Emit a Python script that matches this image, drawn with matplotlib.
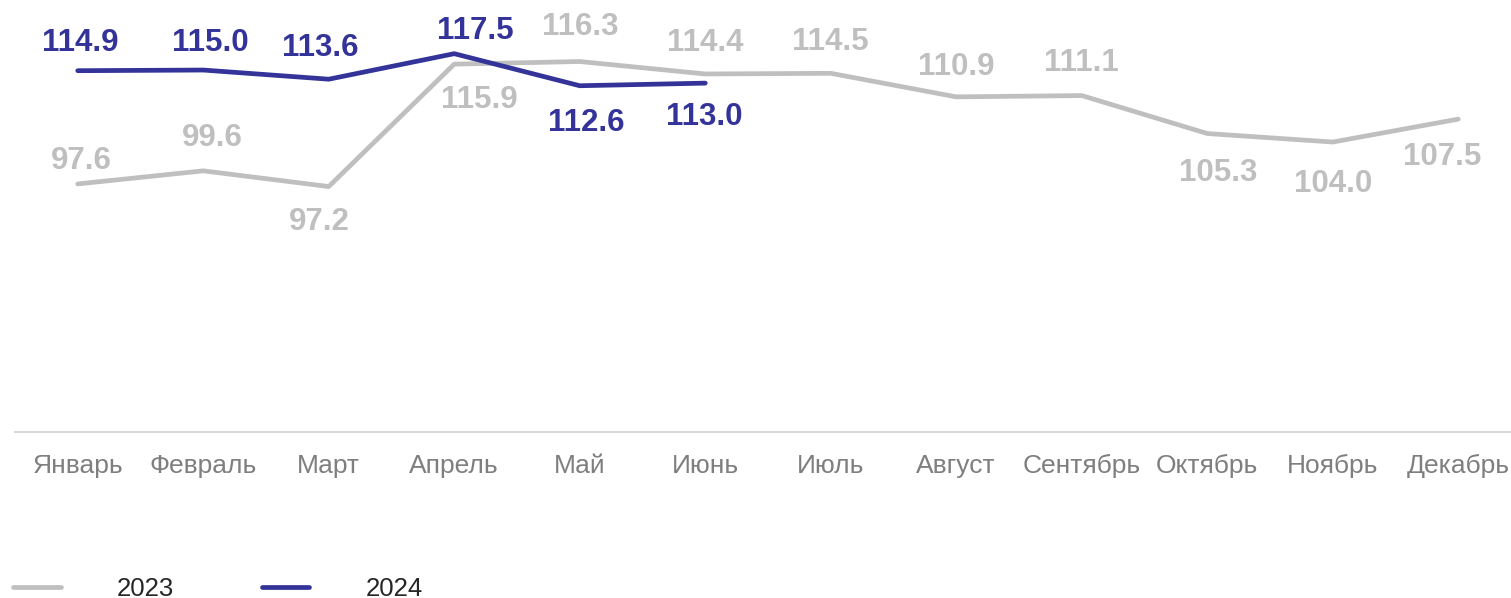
import matplotlib
matplotlib.use("Agg")
import matplotlib.pyplot as plt

months = ["Январь", "Февраль", "Март", "Апрель", "Май", "Июнь",
          "Июль", "Август", "Сентябрь", "Октябрь", "Ноябрь", "Декабрь"]
values_2023 = [97.6, 99.6, 97.2, 115.9, 116.3, 114.4, 114.5, 110.9, 111.1, 105.3, 104.0, 107.5]
values_2024 = [114.9, 115.0, 113.6, 117.5, 112.6, 113.0]
series_names = ["2023", "2024"]

# label offsets in pixels (dx, dy upward positive)
offs_2023 = [(4, 23), (9, 33), (-9, -35), (25, -36), (0, 35), (0, 31),
             (0, 31), (0, 30), (0, 33), (11, -39), (0, -42), (-16, -38)]
offs_2024 = [(3, 28), (7, 27), (-8, 31), (21, 23), (6, -37), (-1, -34)]

C23 = "#BFBFBF"
C24 = "#333399"

plt.rcParams['font.family'] = ['Liberation Sans', 'DejaVu Sans']

fig = plt.figure(figsize=(15.11, 5.98), dpi=100)
ax = fig.add_axes([15 / 1511, (598 - 432) / 598, 1506 / 1511, 432 / 598])
ax.set_xlim(-0.5, 11.5)
ax.set_ylim(59.7, 125.7)

x23 = list(range(len(values_2023)))
x24 = list(range(len(values_2024)))
l23, = ax.plot(x23, values_2023, color=C23, lw=3.4, solid_capstyle='round',
               solid_joinstyle='round', label=series_names[0], clip_on=False)
l24, = ax.plot(x24, values_2024, color=C24, lw=3.4, solid_capstyle='round',
               solid_joinstyle='round', label=series_names[1], clip_on=False)

for xi, v, (dx, dy) in zip(x23, values_2023, offs_2023):
    ax.annotate(f"{v:.1f}", (xi, v), xytext=(dx, dy), textcoords='offset pixels',
                ha='center', va='center', fontsize=22.5, fontweight='bold', color=C23,
                annotation_clip=False)
for xi, v, (dx, dy) in zip(x24, values_2024, offs_2024):
    ax.annotate(f"{v:.1f}", (xi, v), xytext=(dx, dy), textcoords='offset pixels',
                ha='center', va='center', fontsize=22.5, fontweight='bold', color=C24,
                annotation_clip=False)

for s in ['top', 'right', 'left']:
    ax.spines[s].set_visible(False)
ax.spines['bottom'].set_color('#D9D9D9')
ax.spines['bottom'].set_linewidth(1.5)
ax.set_yticks([])
ax.set_xticks(x23)
ax.set_xticklabels(months, fontsize=19, color='#7F7F7F')
ax.tick_params(axis='x', length=0, pad=16)

leg = fig.legend(handles=[l23, l24], labels=series_names, loc='lower left',
                 bbox_to_anchor=(-0.0015, -0.030), ncol=2, frameon=False,
                 fontsize=18.5, handlelength=1.85, handletextpad=2.2,
                 columnspacing=3.4, borderaxespad=0.2)
for t in leg.get_texts():
    t.set_color('#262626')

fig.savefig("out.png", dpi=100)
